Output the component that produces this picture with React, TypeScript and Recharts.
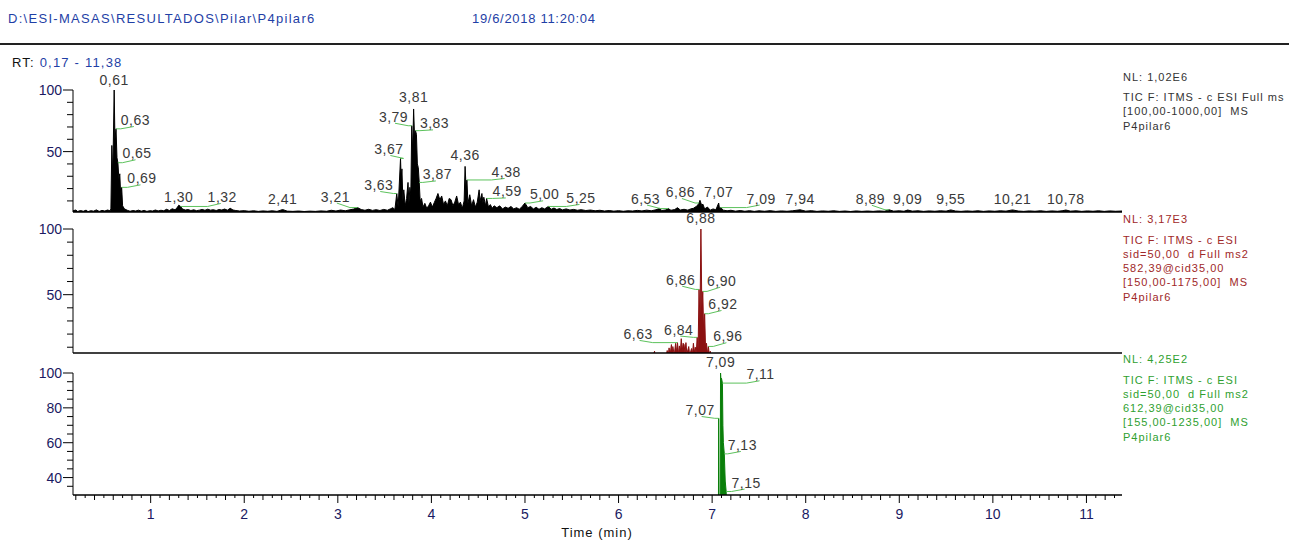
import React from 'react'
import { ComposedChart, Area, Scatter, XAxis, YAxis } from 'recharts'

const W = 1289
const H = 541
const AXIS_H = 20
const FONT = '"Liberation Sans", Arial, sans-serif'
const BLUE = '#1f3fa6'
const TICK_INK = '#1a1a62'
const TAG_INK = '#3a3a3a'
const LEADER = '#5cc25c'

// retention window (min) and labelled time ticks
const rtRange: [number, number] = [0.17, 11.38]
const timeLabels = [1, 2, 3, 4, 5, 6, 7, 8, 9, 10, 11]

// TIC, full scan 100-1000 (relative abundance, %)
const fullScan: [number, number][] = [
  [0.17, 2.0], [0.2, 2.6], [0.22, 1.4], [0.25, 2.2], [0.28, 1.6], [0.31, 2.5], [0.33, 1.3],
  [0.36, 2.1], [0.39, 1.7], [0.42, 2.7], [0.45, 1.5], [0.48, 2.3], [0.51, 1.8], [0.54, 2.6],
  [0.565, 2.0], [0.575, 3.5], [0.585, 55], [0.595, 30], [0.61, 100], [0.618, 60], [0.63, 68.5],
  [0.64, 45], [0.65, 41], [0.66, 28], [0.67, 32], [0.68, 14], [0.69, 21], [0.7, 6], [0.72, 3.5],
  [0.75, 2.4], [0.78, 1.6], [0.81, 2.2], [0.84, 1.8], [0.87, 2.5], [0.9, 1.7], [0.93, 2.3],
  [0.96, 1.5], [0.99, 2.1], [1.02, 1.8], [1.05, 2.6], [1.08, 1.9], [1.11, 2.4], [1.14, 2.0],
  [1.17, 3.2], [1.2, 2.2], [1.23, 3.6], [1.26, 2.8], [1.28, 4.2], [1.3, 6.5], [1.32, 5.5],
  [1.34, 3.4], [1.37, 2.6], [1.4, 3.0], [1.43, 2.2], [1.46, 2.8], [1.49, 2.1], [1.52, 2.5],
  [1.55, 3.1], [1.58, 2.4], [1.61, 3.3], [1.64, 2.5], [1.67, 2.9], [1.7, 2.2], [1.73, 3.0],
  [1.76, 2.6], [1.79, 3.4], [1.82, 2.5], [1.85, 4.0], [1.88, 2.6], [1.91, 2.2], [1.95, 1.8],
  [2.0, 2.1], [2.05, 1.6], [2.1, 2.0], [2.15, 1.5], [2.2, 1.9], [2.25, 1.6], [2.3, 2.0],
  [2.35, 1.5], [2.41, 3.0], [2.46, 1.7], [2.52, 1.5], [2.58, 1.8], [2.64, 1.4], [2.7, 1.7],
  [2.76, 1.5], [2.82, 1.9], [2.88, 1.6], [2.93, 2.4], [2.98, 1.8], [3.03, 2.6], [3.08, 2.0],
  [3.13, 2.8], [3.17, 3.4], [3.21, 4.6], [3.25, 3.0], [3.29, 2.4], [3.33, 3.2], [3.37, 2.3],
  [3.41, 2.9], [3.45, 2.2], [3.49, 3.1], [3.53, 2.4], [3.56, 3.5], [3.59, 4.5], [3.61, 3.0],
  [3.63, 16], [3.645, 5], [3.67, 44.5], [3.677, 28], [3.685, 36], [3.695, 10], [3.705, 19],
  [3.72, 6], [3.735, 12], [3.75, 25], [3.76, 8], [3.77, 21], [3.78, 15], [3.79, 71], [3.8, 50],
  [3.81, 84.6], [3.82, 62], [3.83, 67], [3.84, 64], [3.85, 40], [3.86, 37], [3.87, 25],
  [3.88, 10], [3.895, 12], [3.91, 5], [3.93, 8], [3.95, 4], [3.97, 6], [3.99, 9], [4.01, 5],
  [4.03, 8.5], [4.05, 12], [4.07, 16], [4.09, 11], [4.11, 14], [4.13, 7], [4.15, 10], [4.17, 6],
  [4.19, 12], [4.21, 11], [4.23, 6], [4.25, 9], [4.27, 14], [4.29, 7], [4.31, 9], [4.33, 4],
  [4.35, 10], [4.36, 38], [4.37, 22], [4.38, 27], [4.39, 8], [4.41, 15], [4.43, 6], [4.45, 11],
  [4.47, 5], [4.49, 9], [4.51, 19], [4.52, 10], [4.54, 16], [4.55, 8], [4.56, 13], [4.58, 6],
  [4.59, 12], [4.61, 5], [4.63, 7], [4.65, 4], [4.67, 6], [4.7, 4.5], [4.73, 6], [4.76, 3.5],
  [4.79, 5], [4.82, 4], [4.85, 5.5], [4.88, 3.5], [4.91, 4.5], [4.94, 3.2], [4.97, 5.5],
  [5.0, 8.3], [5.03, 4.5], [5.06, 5.5], [5.09, 3.5], [5.12, 4.8], [5.15, 3.2], [5.18, 4.5],
  [5.21, 3.5], [5.25, 5.5], [5.28, 3.2], [5.31, 4.2], [5.34, 3.0], [5.37, 3.8], [5.4, 2.7],
  [5.44, 3.5], [5.48, 2.6], [5.52, 3.1], [5.56, 2.4], [5.6, 2.9], [5.65, 2.2], [5.7, 2.6],
  [5.75, 2.0], [5.8, 2.4], [5.85, 1.8], [5.9, 2.2], [5.95, 1.7], [6.0, 2.1], [6.05, 1.6],
  [6.1, 2.0], [6.15, 1.8], [6.2, 2.3], [6.25, 1.9], [6.3, 2.5], [6.35, 2.0], [6.4, 2.8],
  [6.44, 4.0], [6.46, 2.2], [6.5, 2.6], [6.53, 3.8], [6.56, 2.4], [6.6, 3.0], [6.63, 4.5],
  [6.66, 2.6], [6.7, 3.2], [6.74, 2.5], [6.77, 3.5], [6.8, 4.0], [6.83, 5.5], [6.85, 7],
  [6.86, 8.3], [6.87, 10.5], [6.89, 6], [6.9, 7.5], [6.92, 3.5], [6.95, 5], [6.98, 2.5],
  [7.01, 3.5], [7.04, 2.8], [7.07, 8.3], [7.08, 3], [7.09, 4.6], [7.12, 2.5], [7.16, 2.0],
  [7.2, 2.4], [7.25, 1.7], [7.3, 2.2], [7.35, 1.6], [7.4, 2.1], [7.45, 1.5], [7.5, 2.0],
  [7.56, 1.6], [7.62, 2.1], [7.68, 1.5], [7.74, 1.9], [7.8, 1.6], [7.86, 2.0], [7.94, 2.8],
  [8.0, 1.7], [8.06, 2.1], [8.12, 1.5], [8.18, 1.9], [8.24, 1.6], [8.3, 2.0], [8.36, 1.5],
  [8.42, 1.8], [8.48, 1.4], [8.54, 1.9], [8.6, 1.5], [8.66, 1.8], [8.72, 1.5], [8.78, 1.9],
  [8.84, 1.6], [8.89, 2.8], [8.94, 1.7], [9.0, 2.0], [9.05, 1.6], [9.09, 2.6], [9.14, 1.7],
  [9.2, 2.0], [9.26, 1.5], [9.32, 1.9], [9.38, 1.6], [9.44, 2.0], [9.5, 1.7], [9.55, 2.7],
  [9.6, 1.8], [9.66, 1.5], [9.72, 1.9], [9.78, 1.6], [9.84, 2.0], [9.9, 1.5], [9.96, 1.9],
  [10.02, 1.6], [10.08, 2.0], [10.14, 1.7], [10.21, 2.7], [10.27, 1.8], [10.33, 1.5],
  [10.39, 1.9], [10.45, 1.6], [10.51, 2.0], [10.57, 1.5], [10.63, 1.9], [10.69, 1.6],
  [10.74, 2.0], [10.78, 2.6], [10.83, 1.7], [10.89, 2.0], [10.95, 1.5], [11.01, 1.9],
  [11.07, 1.6], [11.13, 2.0], [11.19, 1.5], [11.25, 1.9], [11.31, 1.6], [11.38, 1.8],
]
const fullScanPeaks = [
  0.61, 0.63, 0.65, 0.69, 1.3, 1.32, 2.41, 3.21, 3.63, 3.67, 3.79, 3.81, 3.83, 3.87, 4.36, 4.38,
  4.59, 5.0, 5.25, 6.53, 6.86, 7.07, 7.09, 7.94, 8.89, 9.09, 9.55, 10.21, 10.78,
]

// TIC, MS2 of 582,39
const ms2At582: [number, number][] = [
  [0.17, 0], [6.35, 0], [6.385, 7], [6.39, 0], [6.5, 0], [6.52, 7.5], [6.53, 3], [6.54, 9.5],
  [6.55, 4], [6.565, 12], [6.575, 5], [6.58, 10.5], [6.595, 4], [6.61, 13], [6.62, 6],
  [6.63, 13.5], [6.64, 5], [6.65, 11], [6.66, 6], [6.67, 16.5], [6.68, 7], [6.69, 13], [6.7, 12],
  [6.71, 6], [6.72, 13.5], [6.73, 5], [6.75, 10.5], [6.76, 4], [6.78, 9], [6.79, 5], [6.8, 13],
  [6.81, 6], [6.82, 10], [6.83, 5], [6.84, 17.5], [6.85, 8], [6.86, 54], [6.87, 30], [6.88, 100],
  [6.89, 40], [6.9, 52.5], [6.91, 20], [6.92, 35.5], [6.93, 8], [6.94, 13], [6.95, 5],
  [6.96, 10.6], [6.97, 4], [6.98, 7], [6.99, 0], [11.38, 0],
]
const ms2At582Peaks = [6.63, 6.84, 6.86, 6.88, 6.9, 6.92, 6.96]

// TIC, MS2 of 612,39
const ms2At612: [number, number][] = [
  [0.17, 0], [7.066, 0], [7.07, 74], [7.074, 10], [7.085, 10], [7.09, 100], [7.095, 95],
  [7.1, 97], [7.11, 94.2], [7.115, 70], [7.12, 60], [7.13, 53.6], [7.14, 38], [7.15, 32],
  [7.16, 10], [7.17, 0], [11.38, 0],
]
const ms2At612Peaks = [7.07, 7.09, 7.11, 7.13, 7.15]

// where each peak tag sits: side, dx, dy in px from the apex
type Place = ['up' | 'left' | 'right', number, number]
const fullScanPlace: Place[] = [
  ['up', 0, -5], ['right', 4.7, -3.8], ['right', 4.5, -4.4], ['right', 5.7, -4], ['up', 0, -3.5],
  ['right', 27, -4.5], ['up', 0, -6], ['left', -7.5, -6], ['left', -3.4, -3.5], ['left', 3, -4.4],
  ['left', -3.6, -4], ['up', 0, -7], ['right', 4.4, -2.3], ['right', 3.5, -3], ['up', 0, -6],
  ['right', 24.5, -3], ['right', 6, -2], ['right', 5, -3.7], ['right', 18, -3.5], ['left', -8, -5],
  ['left', -4, -6], ['up', 0, -6], ['right', 26, -4], ['up', 0, -6], ['left', -4, -6],
  ['up', 0, -6], ['up', 0, -6], ['up', 0, -6], ['up', 0, -6],
]
const ms2At582Place: Place[] = [
  ['left', -24.8, -3.7], ['left', -3.8, -2.8], ['left', -3.7, -4.7], ['up', 0, -6],
  ['right', 4.3, -5.7], ['right', 3.7, -4.7], ['right', 4.9, -5.2],
]
const ms2At612Place: Place[] = [
  ['left', -3.9, -3.3], ['up', 0, -6.3], ['right', 24, -3.8], ['right', 3.4, -3.9], ['right', 5.3, -3.9],
]

const rows = (pts: [number, number][]) => pts.map(([t, v]) => ({ t, v }))

function buildTags(pts: [number, number][], peaks: number[], place: Place[]) {
  return peaks.map((rt, i) => {
    const hit = pts.find((p) => Math.abs(p[0] - rt) < 1e-6)
    return {
      t: rt,
      v: hit ? hit[1] : 0,
      text: rt.toFixed(2).replace('.', ','),
      side: place[i][0],
      dx: place[i][1],
      dy: place[i][2],
    }
  })
}

function PeakTag(props: any) {
  const { cx, cy, payload } = props
  const { text, side, dx, dy } = payload
  const ty = cy + dy
  const style = { fontFamily: FONT, fontSize: 14, letterSpacing: 0.5, fill: TAG_INK }
  if (side === 'up') {
    return <text x={cx} y={ty} textAnchor="middle" style={style}>{text}</text>
  }
  const w = text.length * 7.3
  const tx = cx + dx
  const dir = side === 'right' ? 1 : -1
  const pts = `${cx},${cy} ${tx},${cy} ${tx + dir * w * 0.45},${ty + 1.5}`
  return (
    <g>
      <polyline points={pts} fill="none" stroke={LEADER} strokeWidth={1} />
      <text x={tx} y={ty} textAnchor={side === 'right' ? 'start' : 'end'} style={style}>{text}</text>
    </g>
  )
}

const makeYTick = (labelled: number[]) => (props: any) => {
  const { x, y, payload } = props
  const big = labelled.includes(payload.value)
  return (
    <g>
      <line x1={x - (big ? 10 : 6)} x2={x} y1={y} y2={y} stroke="#000" />
      {big && (
        <text x={x - 11} y={y + 5} textAnchor="end" style={{ fontFamily: FONT, fontSize: 14, fill: TICK_INK }}>
          {payload.value}
        </text>
      )}
    </g>
  )
}

function TimeTick(props: any) {
  const { x, y, payload } = props
  const tenth = Math.round(payload.value * 10)
  const whole = tenth % 10 === 0
  const len = whole ? 8 : tenth % 2 === 0 ? 5 : 3
  return (
    <g>
      <line x1={x} x2={x} y1={y} y2={y + len} stroke="#000" />
      {whole && timeLabels.includes(tenth / 10) && (
        <text x={x} y={y + 24} textAnchor="middle" style={{ fontFamily: FONT, fontSize: 14, fill: TICK_INK }}>
          {tenth / 10}
        </text>
      )}
    </g>
  )
}

const rtTicks = Array.from({ length: 112 }, (_, i) => (i + 2) / 10)

interface PanelProps {
  pts: [number, number][]
  peaks: number[]
  place: Place[]
  color: string
  top: number
  bottom: number
  yDomain: [number, number]
  yTicks: number[]
  yLabelled: number[]
  showTime?: boolean
}

function Panel({ pts, peaks, place, color, top, bottom, yDomain, yTicks, yLabelled, showTime }: PanelProps) {
  const tags = buildTags(pts, peaks, place)
  return (
    <div style={{ position: 'absolute', left: 0, top: 0 }}>
      <ComposedChart
        width={W}
        height={H}
        data={rows(pts)}
        margin={{ top, right: 167, bottom: H - bottom - AXIS_H, left: 0 }}
      >
        <XAxis
          type="number"
          dataKey="t"
          domain={rtRange}
          ticks={showTime ? rtTicks : []}
          interval={0}
          tick={showTime ? TimeTick : false}
          tickLine={false}
          tickSize={0}
          tickMargin={0}
          height={AXIS_H}
          axisLine={{ stroke: '#000', strokeWidth: 1.3 }}
        />
        <YAxis
          yAxisId="sig"
          type="number"
          domain={yDomain}
          allowDataOverflow
          ticks={yTicks}
          interval={0}
          tick={makeYTick(yLabelled)}
          tickLine={false}
          tickSize={0}
          tickMargin={0}
          width={73}
          axisLine={{ stroke: '#000' }}
        />
        <YAxis yAxisId="tag" type="number" domain={yDomain} hide />
        <Area
          yAxisId="sig"
          type="linear"
          dataKey="v"
          stroke={color}
          strokeWidth={1}
          fill={color}
          fillOpacity={1}
          dot={false}
          activeDot={false}
          isAnimationActive={false}
        />
        <Scatter yAxisId="tag" data={tags} dataKey="v" shape={PeakTag} isAnimationActive={false} />
      </ComposedChart>
    </div>
  )
}

function SideNote({ x, y, lines, color }: { x: number; y: number; lines: string[]; color: string }) {
  return (
    <text style={{ fontFamily: FONT, fontSize: 11, letterSpacing: 1, fill: color }}>
      <tspan x={x} y={y}>{lines[0]}</tspan>
      {lines.slice(1).map((l, i) => (
        <tspan key={i} x={x} y={y + 20.5 + i * 14.3} style={{ whiteSpace: 'pre' }}>{l}</tspan>
      ))}
    </text>
  )
}

export default function App() {
  return (
    <div style={{ position: 'absolute', left: 0, top: 0, width: W, height: H, background: '#fff', overflow: 'hidden' }}>
      <Panel
        pts={fullScan}
        peaks={fullScanPeaks}
        place={fullScanPlace}
        color="#000"
        top={90}
        bottom={212}
        yDomain={[1, 100]}
        yTicks={[10, 20, 30, 40, 50, 60, 70, 80, 90, 100]}
        yLabelled={[50, 100]}
      />
      <Panel
        pts={ms2At582}
        peaks={ms2At582Peaks}
        place={ms2At582Place}
        color="#8b1111"
        top={229}
        bottom={353}
        yDomain={[5.6, 100]}
        yTicks={[10, 20, 30, 40, 50, 60, 70, 80, 90, 100]}
        yLabelled={[50, 100]}
      />
      <Panel
        pts={ms2At612}
        peaks={ms2At612Peaks}
        place={ms2At612Place}
        color="#0a7f0a"
        top={373}
        bottom={495}
        yDomain={[30, 100]}
        yTicks={[35, 40, 45, 50, 55, 60, 65, 70, 75, 80, 85, 90, 95, 100]}
        yLabelled={[40, 60, 80, 100]}
        showTime
      />
      <svg width={W} height={H} style={{ position: 'absolute', left: 0, top: 0, pointerEvents: 'none' }}>
        <text x={8} y={23} style={{ fontFamily: FONT, fontSize: 13, letterSpacing: 1.3, fill: BLUE }}>
          {'D:\\ESI-MASAS\\RESULTADOS\\Pilar\\P4pilar6'}
        </text>
        <text x={472} y={23} style={{ fontFamily: FONT, fontSize: 13, letterSpacing: 0.7, fill: BLUE }}>
          19/6/2018 11:20:04
        </text>
        <line x1={0} x2={W} y1={44} y2={44} stroke="#222" strokeWidth={2} />
        <text x={12} y={67} style={{ fontFamily: FONT, fontSize: 13, letterSpacing: 1.2, fill: '#111' }}>
          RT: <tspan style={{ fill: BLUE }}>0,17 - 11,38</tspan>
        </text>
        <SideNote
          x={1123}
          y={80.5}
          color="#333"
          lines={['NL: 1,02E6', 'TIC F: ITMS - c ESI Full ms', '[100,00-1000,00]  MS', 'P4pilar6']}
        />
        <SideNote
          x={1123}
          y={223}
          color="#a02828"
          lines={['NL: 3,17E3', 'TIC F: ITMS - c ESI', 'sid=50,00  d Full ms2', '582,39@cid35,00', '[150,00-1175,00]  MS', 'P4pilar6']}
        />
        <SideNote
          x={1123}
          y={363}
          color="#2f9f2f"
          lines={['NL: 4,25E2', 'TIC F: ITMS - c ESI', 'sid=50,00  d Full ms2', '612,39@cid35,00', '[155,00-1235,00]  MS', 'P4pilar6']}
        />
        <text x={597} y={537} textAnchor="middle" style={{ fontFamily: FONT, fontSize: 13, letterSpacing: 1, fill: '#111' }}>
          Time (min)
        </text>
      </svg>
    </div>
  )
}
